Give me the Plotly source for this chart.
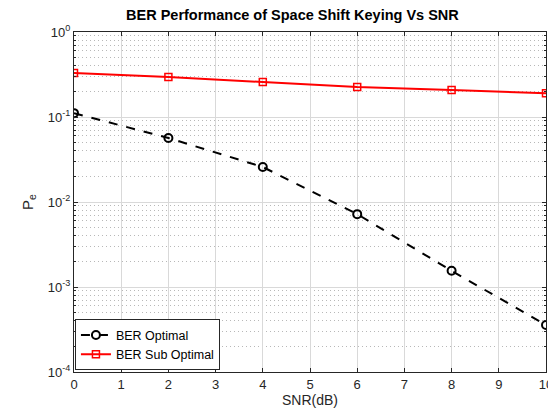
import plotly.graph_objects as go

snr = [0, 2, 4, 6, 8, 10]
ber_optimal = [0.111, 0.0566, 0.0258, 0.0072, 0.00155, 0.000357]
ber_sub_optimal = [0.33, 0.295, 0.258, 0.225, 0.208, 0.19]
x_ticks = list(range(0, 11))
y_tickvals = [1e-4, 1e-3, 1e-2, 1e-1, 1]
y_ticktext = ["10<sup>-4</sup>", "10<sup>-3</sup>", "10<sup>-2</sup>", "10<sup>-1</sup>", "10<sup>0</sup>"]
y_minor_vals = [m * 10.0 ** e for e in range(-4, 0) for m in range(2, 10)]

FONT = "Liberation Sans, Arial, sans-serif"

fig = go.Figure()
fig.add_trace(go.Scatter(
    x=snr, y=ber_optimal, name="BER Optimal", mode="lines+markers",
    line=dict(color="black", width=2, dash="dash"),
    marker=dict(symbol="circle-open", size=8, color="black", line=dict(width=2)),
))
fig.add_trace(go.Scatter(
    x=snr, y=ber_sub_optimal, name="BER Sub Optimal", mode="lines+markers",
    line=dict(color="#ff0000", width=2),
    marker=dict(symbol="square-open", size=7, color="#ff0000", line=dict(width=1.5)),
))

axis_common = dict(
    showline=True, linecolor="#262626", linewidth=1, mirror="ticks",
    ticks="inside", ticklen=4, tickcolor="#262626",
    gridcolor="#d9d9d9", gridwidth=1, zeroline=False, automargin=False,
    tickfont=dict(family=FONT, size=13, color="#262626"),
)

# page has an 8px body margin, so the figure is sized 548x406 to fill the 556x414 window
fig.update_layout(
    width=548, height=406,
    margin=dict(l=66, r=10, t=24, b=42),
    paper_bgcolor="white", plot_bgcolor="white",
    title=dict(text="<b>BER Performance of Space Shift Keying Vs SNR</b>",
               x=0.519, xanchor="center", xref="container",
               y=0.983, yanchor="middle", yref="container",
               font=dict(family=FONT, size=14.5, color="black")),
    font=dict(family=FONT, color="#262626"),
    xaxis=dict(range=[0, 10], tickvals=x_ticks,
               title=dict(text="SNR(dB)", standoff=4, font=dict(size=14)),
               **axis_common),
    yaxis=dict(type="log", range=[-4, 0], tickvals=y_tickvals, ticktext=y_ticktext,
               title=dict(text="P<sub>e</sub>", standoff=10, font=dict(size=15)),
               minor=dict(tickvals=y_minor_vals, showgrid=True, griddash="1px,3px",
                          gridcolor="#b8b8b8", gridwidth=1,
                          ticks="inside", ticklen=2, tickcolor="#262626"),
               **axis_common),
    legend=dict(x=0.002, y=0.005, xanchor="left", yanchor="bottom",
                bgcolor="white", bordercolor="#262626", borderwidth=1,
                font=dict(family=FONT, size=12.5, color="black"),
                tracegroupgap=0, itemwidth=30),
    showlegend=True,
)

fig.write_html("out.html")
